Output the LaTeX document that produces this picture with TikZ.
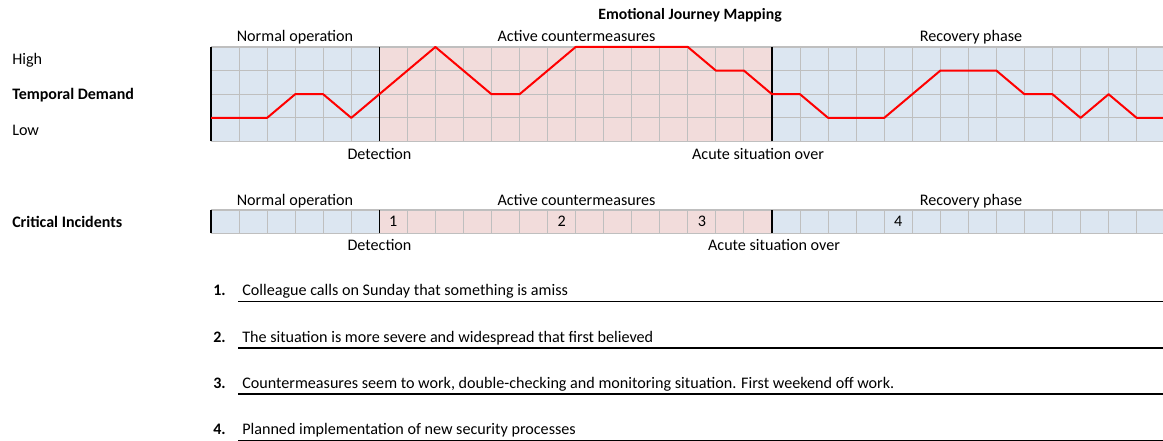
\documentclass[tikz,border=0pt]{standalone}
\usepackage{fontspec}
\setmainfont{Carlito}
\definecolor{bluec}{HTML}{DCE6F1}
\definecolor{pinkc}{HTML}{F2DCDB}
\definecolor{gridc}{HTML}{BFBFBF}
\begin{document}
\begin{tikzpicture}[x=0.75pt,y=-0.75pt,
  lbl/.style={inner sep=0pt,anchor=base,font=\fontsize{12.1}{14}\selectfont},
  lbll/.style={lbl,anchor=base west},
  blbl/.style={lbll,font=\fontsize{12}{14}\selectfont\bfseries},
  gline/.style={draw=gridc,line width=0.8pt},
  phase/.style={draw=black,line width=0.8pt},
  edge/.style={draw=black,line width=1.3pt},
  journey/.style={draw=red,line width=1.5pt,line join=round},
  uline/.style={draw=black,line width=1.1pt}]
\useasboundingbox (0,0) rectangle (1163,441);
% ---------- top grid ----------
\begin{scope}[shift={(211,141.5)},x=21.0375pt,y=17.71875pt]
  \fill[bluec] (0,0) rectangle (6,4);
  \fill[pinkc] (6,0) rectangle (20,4);
  \fill[bluec] (20,0) rectangle (33.94,4);
  \foreach \i in {1,...,33} \draw[gline] (\i,0) -- (\i,4);
  \foreach \j in {0,...,4} \draw[gline] (0,\j) -- (33.94,\j);
  \draw[phase] (6,0) -- (6,4);
  \draw[phase] (20,0) -- (20,4);
  \draw[edge] (0,0) -- (0,4);
  \draw[journey] plot coordinates {(0,1) (2,1) (3,2) (4,2) (5,1) (6,2) (8,4) (10,2) (11,2) (13,4) (17,4) (18,3) (19,3) (20,2) (21,2) (22,1) (24,1) (26,3) (28,3) (29,2) (30,2) (31,1) (32,2) (33,1) (33.94,1)};
\end{scope}
% ---------- incidents strip ----------
\begin{scope}[shift={(211,233.3)},x=21.0375pt,y=17.475pt]
  \fill[bluec] (0,0) rectangle (6,1);
  \fill[pinkc] (6,0) rectangle (20,1);
  \fill[bluec] (20,0) rectangle (33.94,1);
  \foreach \i in {1,...,33} \draw[gline] (\i,0) -- (\i,1);
  \foreach \j in {0,1} \draw[gline] (0,\j) -- (33.94,\j);
  \draw[phase] (6,0) -- (6,1);
  \draw[phase] (20,0) -- (20,1);
  \draw[edge] (0,0) -- (0,1);
\end{scope}
% ---------- texts ----------
\node[lbl,font=\fontsize{11.8}{14}\selectfont\bfseries] (title) at (690,20) {Emotional Journey Mapping};
\node[lbl] (n1) at (295,42) {Normal operation};
\node[lbl] (a1) at (576.5,42) {Active countermeasures};
\node[lbl] (r1) at (971,42) {Recovery phase};
\node[lbl] (d1) at (379.5,160) {Detection};
\node[lbl] (o1) at (758,160) {Acute situation over};
\node[lbl] (n2) at (295,205.7) {Normal operation};
\node[lbl] (a2) at (576.5,205.7) {Active countermeasures};
\node[lbl] (r2) at (971,205.7) {Recovery phase};
\node[lbl] (d2) at (379.5,250.7) {Detection};
\node[lbl] (o2) at (774,250.7) {Acute situation over};
\node[lbll] (high) at (12,65) {High};
\node[blbl] (td) at (12,100) {Temporal Demand};
\node[lbll] (low) at (12,136) {Low};
\node[blbl] (ci) at (12,227.3) {Critical Incidents};
\node[lbl] (c1) at (393.3,226.7) {1};
\node[lbl] (c2) at (561.6,226.7) {2};
\node[lbl] (c3) at (701.9,226.7) {3};
\node[lbl] (c4) at (898.2,226.7) {4};
% ---------- list ----------
\foreach \k/\txt [count=\r from 0] in {1/Colleague calls on Sunday that something is amiss,
  2/The situation is more severe and widespread that first believed,
  3/{Countermeasures seem to work, double-checking and monitoring situation. First weekend off work.},
  4/Planned implementation of new security processes}{
  \node[blbl,anchor=base east] (num\k) at (226,296+46.3*\r) {\k.};
  \node[lbll] (item\k) at (242,296+46.3*\r) {\txt};
  \draw[uline] (238,301.5+46.3*\r) -- (1163,301.5+46.3*\r);
}
\end{tikzpicture}
\end{document}
